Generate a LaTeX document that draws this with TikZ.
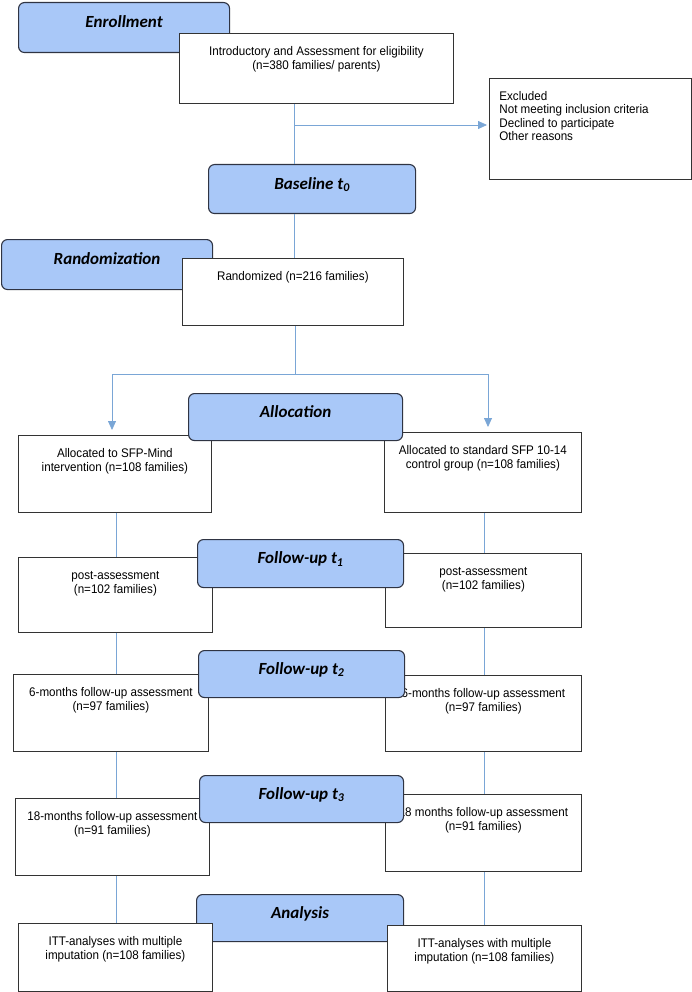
\documentclass[tikz,border=0pt]{standalone}
\usepackage{fontspec}
\setmainfont{Liberation Sans}[FakeStretch=0.93]
\newfontfamily\stagefont{Carlito}
\usetikzlibrary{arrows.meta}

\definecolor{stagefill}{HTML}{A9C8F8}
\definecolor{stageline}{HTML}{2F3443}
\definecolor{boxline}{HTML}{333333}
\definecolor{linkblue}{HTML}{7AA6D6}

% text set at the top of a box of given width and height
\newcommand{\boxtext}[3]{\parbox[t][#2][t]{#1}{\centering\rule{0pt}{22pt}#3}}

\tikzset{
  stagebox/.style={draw=stageline, fill=stagefill, line width=1.1pt, rounded corners=6pt,
    anchor=north west, inner sep=0pt, text height=0pt, text depth=0pt,
    font=\stagefont\bfseries\itshape\fontsize{17}{20}\selectfont},
  infobox/.style={draw=boxline, fill=white, line width=0.8pt, anchor=north west,
    inner sep=0pt, font=\fontsize{12.5}{14}\selectfont},
  link/.style={draw=linkblue, line width=0.8pt},
  flow/.style={link, -{Triangle[length=9pt,width=8pt]}}
}

\begin{document}
\begin{tikzpicture}[x=1pt, y=-1pt]
    \useasboundingbox (0,0) rectangle (692,992);
    % enrollment
    \node[stagebox, minimum width=211pt, minimum height=50pt] (enroll) at (18,2) {Enrollment};
    \node[infobox] (intro) at (179,33) {\boxtext{274pt}{70pt}{Introductory and Assessment for eligibility\\(n=380 families/ parents)}};
    \node[infobox] (excl) at (489,78) {\parbox[t][101pt][t]{202pt}{\raggedright\leftskip=10pt\baselineskip=13.4pt\rule{0pt}{22pt}Excluded\\Not meeting inclusion criteria\\Declined to participate\\Other reasons}};
    \node[stagebox, minimum width=207pt, minimum height=49pt] (baseline) at (208,164) {Baseline t\textsubscript{0}};
    % randomization
    \node[stagebox, minimum width=211pt, minimum height=50pt] (random) at (1,239) {Randomization};
    \node[infobox] (randd) at (182,258) {\boxtext{221pt}{67pt}{Randomized (n=216 families)}};
    % allocation
    \node[infobox] (a1) at (18,435) {\boxtext{193pt}{77pt}{Allocated to SFP-Mind\\intervention (n=108 families)}};
    \node[infobox] (b1) at (384,432) {\boxtext{197pt}{80pt}{Allocated to standard SFP 10-14\\control group (n=108 families)}};
    \node[stagebox, minimum width=214pt, minimum height=47pt] (alloc) at (188,393) {Allocation};
    % follow-up
    \node[infobox] (a2) at (18,557) {\boxtext{194pt}{75pt}{post-assessment\\(n=102 families)}};
    \node[infobox] (b2) at (385,553) {\boxtext{196pt}{74pt}{post-assessment\\(n=102 families)}};
    \node[stagebox, minimum width=206pt, minimum height=48pt] (fu1) at (197,539) {Follow-up t\textsubscript{1}};
    \node[infobox] (a3) at (13,674) {\boxtext{195pt}{77pt}{6-months follow-up assessment\\(n=97 families)}};
    \node[infobox] (b3) at (385,675) {\boxtext{196pt}{76pt}{6-months follow-up assessment\\(n=97 families)}};
    \node[stagebox, minimum width=206pt, minimum height=47pt] (fu2) at (198,650) {Follow-up t\textsubscript{2}};
    \node[infobox] (a4) at (15,798) {\boxtext{194pt}{77pt}{18-months follow-up assessment\\(n=91 families)}};
    \node[infobox] (b4) at (385,794) {\boxtext{196pt}{77pt}{18 months follow-up assessment\\(n=91 families)}};
    \node[stagebox, minimum width=204pt, minimum height=47pt] (fu3) at (199,775) {Follow-up t\textsubscript{3}};
    % analysis
    \node[stagebox, minimum width=207pt, minimum height=47pt] (analysis) at (196,894) {Analysis};
    \node[infobox] (a5) at (18,923) {\boxtext{194pt}{68pt}{ITT-analyses with multiple\\imputation (n=108 families)}};
    \node[infobox] (b5) at (387,925) {\boxtext{194pt}{66pt}{ITT-analyses with multiple\\imputation (n=108 families)}};
    % connectors
    \coordinate (trunk) at (294,0);
    \coordinate (split) at (294,125);
    \coordinate (fork) at (295,374);
    \coordinate (lefttip) at (112,430);
    \coordinate (righttip) at (488,427);
    \coordinate (leftcol) at (116,0);
    \coordinate (rightcol) at (484,0);
    \draw[link] (intro.south -| trunk) -- (baseline.north -| trunk);
    \draw[flow] (split) -- ([xshift=-2pt]split -| excl.west);
    \draw[link] (baseline.south -| trunk) -- (randd.north -| trunk);
    \draw[link] (randd.south -| fork) -- (fork);
    \draw[flow] (fork) -| (lefttip);
    \draw[flow] (fork) -| (righttip);
    \foreach \u/\v in {a1/a2,a2/a3,a3/a4,a4/a5}
      \draw[link] (\u.south -| leftcol) -- (\v.north -| leftcol);
    \foreach \u/\v in {b1/b2,b2/b3,b3/b4,b4/b5}
      \draw[link] (\u.south -| rightcol) -- (\v.north -| rightcol);
\end{tikzpicture}
\end{document}
